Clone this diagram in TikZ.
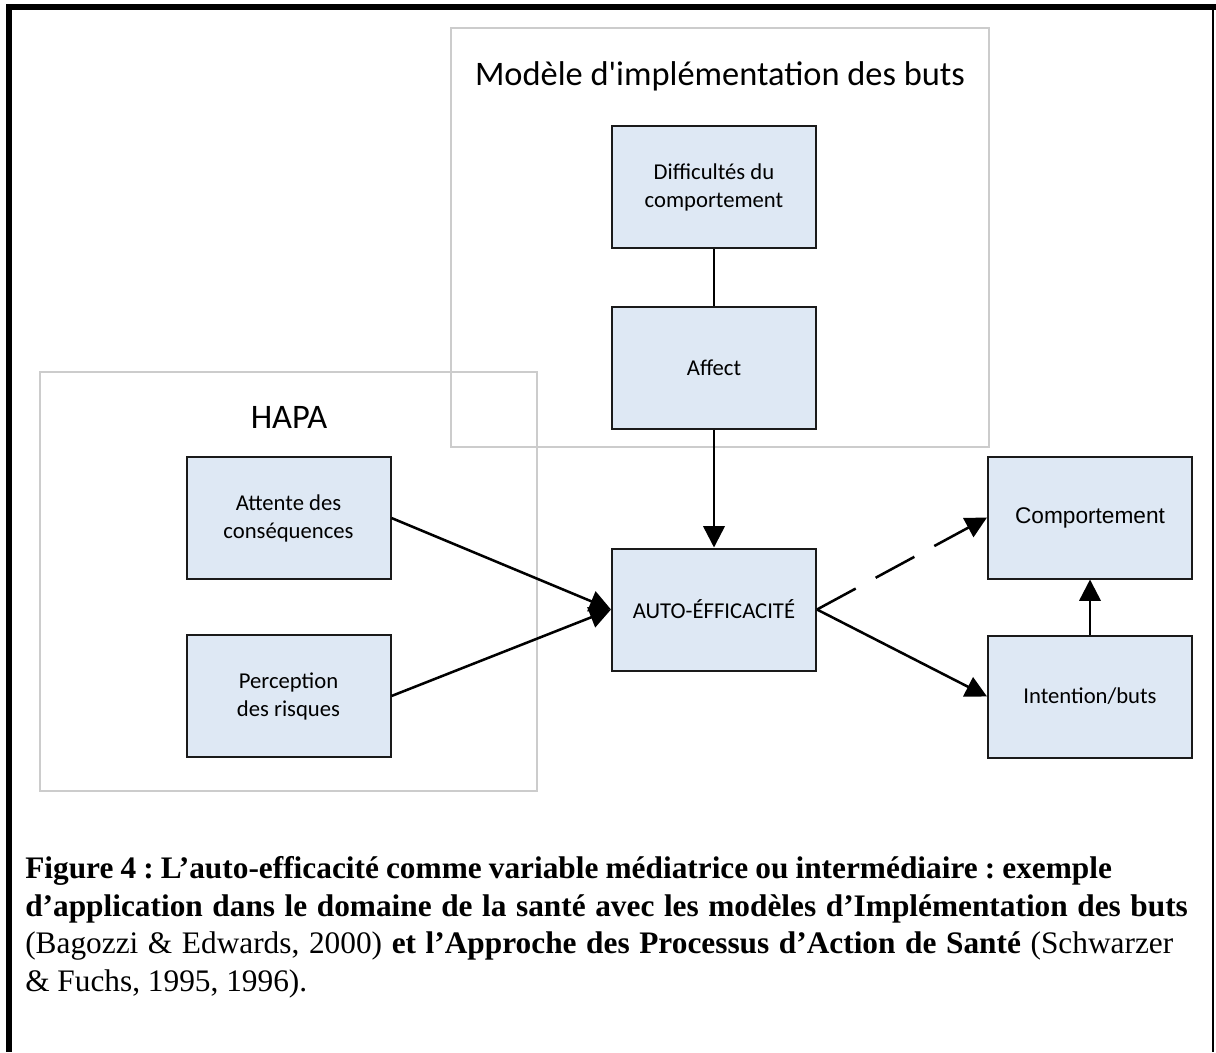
\documentclass[tikz,border=0pt]{standalone}
\usepackage{fontspec}
\setmainfont{Liberation Serif}
\newfontfamily\calfont{Carlito}
\newfontfamily\arialfont{Liberation Sans}
\usetikzlibrary{arrows.meta}
\definecolor{boxfill}{HTML}{DEE8F4}
\definecolor{framegray}{HTML}{CCCCCC}
\definecolor{boxline}{HTML}{1A1A1A}
\frenchspacing
\begin{document}
\begin{tikzpicture}[x=0.75pt,y=-0.75pt,
  box/.style={draw=boxline, line width=1.5pt, fill=boxfill, minimum width=153pt, minimum height=91.5pt, inner sep=2pt, align=center, font=\calfont\fontsize{17}{21}\selectfont},
  frame/.style={draw=framegray, line width=2.2pt},
  link/.style={line width=1.9pt},
  conn/.style={line width=1.9pt, -{Triangle[length=16pt,width=16pt]}},
  title/.style={font=\calfont\fontsize{25.8}{30}\selectfont, anchor=base, inner sep=0pt}]
\useasboundingbox (0,0) rectangle (1216,1052);
\fill[white] (0,0) rectangle (1216,1052);
% outer border
\draw[line width=4.5pt] (9,7) -- (9,1052);
\draw[line width=4.5pt] (6,7) -- (1216,7);
\draw[line width=1.5pt] (1213,7) -- (1213,1052);
% group frames
\draw[frame] (451,28) rectangle (989,447);
\draw[frame] (40,372) rectangle (537,791);
\node[title] (t1) at (720,86) {Modèle d'implémentation des buts};
\node[title] (t2) at (289,428) {HAPA};
% boxes
\node[box] (diff) at (714,187) {Difficultés du\\comportement};
\node[box] (affect) at (714,367.5) {Affect};
\node[box] (auto) at (714,609.5) {AUTO-ÉFFICACITÉ};
\node[box] (att) at (288.5,518) {Attente des\\conséquences};
\node[box] (perc) at (288.5,696) {Perception\\des risques};
\node[box, font=\arialfont\fontsize{17}{21}\selectfont] (comp) at (1090,517.5) {Comportement};
\node[box] (int) at (1090,696.5) {Intention/buts};
% connectors
\draw[link] (diff) -- (affect);
\draw[conn] (affect) -- (auto);
\draw[conn] (att.east) -- (auto.west);
\draw[conn] (perc.east) -- (auto.west);
\draw[conn, dash pattern=on 33pt off 17pt] (auto.east) -- (comp.west);
\draw[conn] (auto.east) -- (int.west);
\draw[conn] (int) -- (comp);
% caption
\node[anchor=north west, inner sep=0pt, align=left, font=\fontsize{23.5}{28.3}\selectfont] (cap) at (25,856) {\makebox[815pt][s]{\textbf{Figure 4 : L’auto-efficacité comme variable médiatrice ou intermédiaire : exemple}}\\
\makebox[872pt][s]{\textbf{d’application dans le domaine de la santé avec les modèles d’Implémentation des buts}}\\
\makebox[861pt][s]{(Bagozzi \& Edwards, 2000) \textbf{et l’Approche des Processus d’Action de Santé} (Schwarzer}\\
\& Fuchs, 1995, 1996).};
\end{tikzpicture}
\end{document}
